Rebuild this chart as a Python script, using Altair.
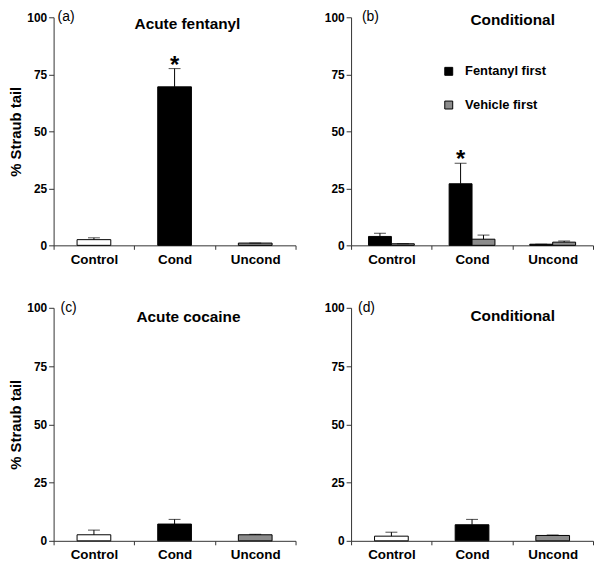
import altair as alt
import pandas as pd

categories = ["Control", "Cond", "Uncond"]

# Panel (a) Acute fentanyl
a_mean = [2.5, 69.5, 1.0]
a_sem = [0.8, 8.0, 0.0]
a_star = ["", "*", ""]

# Panel (b) Conditional (fentanyl)
series = ["Fentanyl first", "Vehicle first"]
b_fent_mean = [3.9, 27.0, 0.5]
b_fent_sem = [1.4, 9.0, 0.0]
b_veh_mean = [0.7, 2.7, 1.4]
b_veh_sem = [0.0, 1.8, 0.5]
b_fent_star = ["", "*", ""]
b_veh_star = ["", "", ""]

# Panel (c) Acute cocaine
c_mean = [2.6, 7.2, 2.6]
c_sem = [2.0, 2.0, 0.2]

# Panel (d) Conditional (cocaine)
d_mean = [2.0, 6.9, 2.3]
d_sem = [1.7, 2.3, 0.2]

FONT = "Liberation Sans"
GRAY = "#8c8c8c"
W = 244
H_TOP, H_BOT = 230, 235


def single_df(mean, sem, star=None):
    star = star or [""] * len(mean)
    return pd.DataFrame({
        "cat": categories,
        "mean": mean,
        "top": [m + s for m, s in zip(mean, sem)],
        "star": star,
    })


def x_enc():
    return alt.X("cat:N", sort=categories,
                 scale=alt.Scale(paddingInner=0, paddingOuter=0),
                 axis=alt.Axis(title=None, labelAngle=0, tickBand="extent",
                               tickSize=4, labelPadding=3, labelFontSize=13.5))


def y_axis(show_title):
    kw = dict(values=[0, 25, 50, 75, 100], tickSize=5, labelPadding=2,
              labelFontSize=12, grid=False)
    if show_title:
        kw.update(title="% Straub tail", titleFontSize=15, titlePadding=3)
    else:
        kw.update(title="")
    return alt.Axis(**kw)


def annotations(letter, title, tx, ty, lx):
    lab = alt.Chart(pd.DataFrame({"t": [letter]})).mark_text(
        font=FONT, fontSize=14, align="left", baseline="middle", color="black"
    ).encode(x=alt.value(lx), y=alt.value(0), text="t:N")
    ttl = alt.Chart(pd.DataFrame({"t": [title]})).mark_text(
        font=FONT, fontSize=15.5, fontWeight="bold", align="center",
        baseline="middle", color="black"
    ).encode(x=alt.value(tx), y=alt.value(ty), text="t:N")
    return [lab, ttl]


def layers(base, show_title, fill):
    yscale = alt.Scale(domain=[0, 100])
    ax = y_axis(show_title)
    bars = base.mark_bar(stroke="black", strokeWidth=1).encode(
        y=alt.Y("mean:Q", scale=yscale, axis=ax), fill=fill)
    rule = base.mark_rule(color="black", strokeWidth=1).encode(
        y=alt.Y("mean:Q", scale=yscale, axis=ax), y2="top:Q")
    cap = base.mark_tick(color="black", size=12, thickness=1,
                         orient="horizontal").encode(
        y=alt.Y("top:Q", scale=yscale, axis=ax))
    star = base.transform_filter("datum.star != ''").mark_text(
        font=FONT, fontSize=24, fontWeight="bold", baseline="middle", dy=-3,
        color="black"
    ).encode(y=alt.Y("top:Q", scale=yscale, axis=ax), text="star:N")
    return bars, rule, cap, star


def single_panel(df, letter, title, tx, ty, show_title, h, lx):
    base = alt.Chart(df).encode(x=x_enc())
    fill = alt.Fill("cat:N", scale=alt.Scale(domain=categories,
                                             range=["white", "black", GRAY]),
                    legend=None)
    bars, rule, cap, star = layers(base, show_title, fill)
    bars = bars.mark_bar(size=34, stroke="black", strokeWidth=1)
    return alt.layer(bars, rule, cap, star,
                     *annotations(letter, title, tx, ty, lx)).properties(width=W, height=h)


def grouped_panel(letter, title, tx, ty, h, lx):
    rows = []
    for i, c in enumerate(categories):
        rows.append({"cat": c, "series": series[0], "mean": b_fent_mean[i],
                     "top": b_fent_mean[i] + b_fent_sem[i], "star": b_fent_star[i]})
        rows.append({"cat": c, "series": series[1], "mean": b_veh_mean[i],
                     "top": b_veh_mean[i] + b_veh_sem[i], "star": b_veh_star[i]})
    df = pd.DataFrame(rows)
    xo = alt.XOffset("series:N", sort=series,
                     scale=alt.Scale(paddingInner=0, paddingOuter=0.76))
    base = alt.Chart(df).encode(x=x_enc(), xOffset=xo)
    fill = alt.Fill("series:N", sort=series,
                    scale=alt.Scale(domain=series, range=["black", GRAY]),
                    legend=alt.Legend(orient="none", legendX=92, legendY=48,
                                      title=None, symbolType="square",
                                      symbolSize=64, symbolStrokeColor="black",
                                      symbolStrokeWidth=1,
                                      labelFont=FONT, labelFontSize=13,
                                      labelFontWeight="bold", labelColor="black",
                                      labelOffset=10, rowPadding=20))
    bars, rule, cap, star = layers(base, False, fill)
    return alt.layer(bars, rule, cap, star,
                     *annotations(letter, title, tx, ty, lx)).properties(width=W, height=h)


pa = single_panel(single_df(a_mean, a_sem, a_star), "(a)", "Acute fentanyl", 135, 7, True, H_TOP, 4)
pb = grouped_panel("(b)", "Conditional", 163, 3, H_TOP, 11)
pc = single_panel(single_df(c_mean, c_sem), "(c)", "Acute cocaine", 136, 9, True, H_BOT, 7)
pd_ = single_panel(single_df(d_mean, d_sem), "(d)", "Conditional", 163, 8, False, H_BOT, 7)

top = alt.hconcat(pa, pb, spacing=27).resolve_scale(fill="independent")
bottom = alt.hconcat(pc, pd_, spacing=27).resolve_scale(fill="independent")

chart = alt.vconcat(top, bottom, spacing=35).resolve_scale(
    fill="independent"
).properties(
    padding={"left": 0, "top": 0, "right": 0, "bottom": 0},
    background="white",
).configure_axis(
    labelFont=FONT, labelFontWeight="bold", labelColor="black",
    titleFont=FONT, titleFontWeight="bold", titleColor="black",
    domainColor="#333333", tickColor="#333333", grid=False,
).configure_view(stroke=None)

chart.save("out.html", embed_options={"renderer": "svg", "actions": False})
